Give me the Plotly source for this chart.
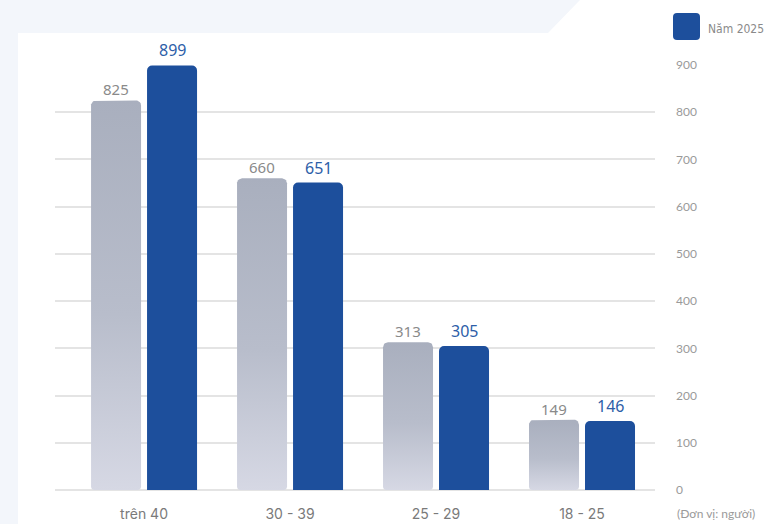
import numpy as np
import plotly.graph_objects as go

# --- data -------------------------------------------------------------
age_groups = ["trên 40", "30 - 39", "25 - 29", "18 - 25"]
prev_year = [825, 660, 313, 149]      # gray series (previous year)
year_2025 = [899, 651, 305, 146]      # blue series
y_ticks = [0, 100, 200, 300, 400, 500, 600, 700, 800, 900]
legend_label = "Năm 2025"
unit_note = "(Đơn vị: người)"

# --- layout constants -------------------------------------------------
W, H = 772, 524
M_L, M_R, M_T, M_B = 55, 117, 65, 34
X_RANGE = [-0.61, 3.5]
Y_RANGE = [0, 900]
PLOT_W = W - M_L - M_R
PLOT_H = H - M_T - M_B
PX_X = PLOT_W / (X_RANGE[1] - X_RANGE[0])   # pixels per x unit
PX_Y = PLOT_H / (Y_RANGE[1] - Y_RANGE[0])   # pixels per y unit

BAR_W_PX = 50
OFFSET_PX = 28
bar_w = BAR_W_PX / PX_X
offset = OFFSET_PX / PX_X

BLUE = "#1d4f9c"
GRAY_TOP = "#a9afbe"
GRAY_MID = "#b8bdcb"
GRAY_BOTTOM = "#d6d8e4"
BG = "#f3f6fb"
GRID = "#e4e4e4"
VALUE_FONT = "Noto Sans"

x_idx = np.arange(len(age_groups))

fig = go.Figure()


def rounded_bar_path(xc, value, r_top_px=5, r_bot_px=3, n=8):
    """Outline of a bar with rounded corners, in data units."""
    hw = bar_w / 2
    x0, x1 = xc - hw, xc + hw
    rtx, rty = r_top_px / PX_X, r_top_px / PX_Y
    rbx, rby = r_bot_px / PX_X, r_bot_px / PX_Y
    xs, ys = [], []
    # bottom-left corner
    for t in np.linspace(0, np.pi / 2, n):
        xs.append(x0 + rbx - rbx * np.cos(t))
        ys.append(rby - rby * np.sin(t))
    # bottom-right corner
    for t in np.linspace(np.pi / 2, 0, n):
        xs.append(x1 - rbx + rbx * np.cos(t))
        ys.append(rby - rby * np.sin(t))
    # top-right corner
    for t in np.linspace(0, np.pi / 2, n):
        xs.append(x1 - rtx + rtx * np.cos(t))
        ys.append(value - rty + rty * np.sin(t))
    # top-left corner
    for t in np.linspace(np.pi / 2, np.pi, n):
        xs.append(x0 + rtx + rtx * np.cos(t))
        ys.append(value - rty + rty * np.sin(t))
    xs.append(xs[0])
    ys.append(ys[0])
    return xs, ys


# gray bars with a vertical gradient
for i, v in zip(x_idx, prev_year):
    xs, ys = rounded_bar_path(i - offset, v)
    fig.add_trace(go.Scatter(
        x=xs, y=ys, mode="lines", fill="toself",
        line=dict(width=0, color="rgba(0,0,0,0)"),
        fillgradient=dict(
            type="vertical", start=0, stop=v,
            colorscale=[[0, GRAY_BOTTOM], [0.45, GRAY_MID], [1, GRAY_TOP]],
        ),
        hoverinfo="skip", showlegend=False,
    ))

# blue bars
fig.add_trace(go.Bar(
    x=x_idx + offset, y=year_2025, width=bar_w,
    marker=dict(color=BLUE, cornerradius=5, line=dict(width=0)),
    name=legend_label, showlegend=False, hoverinfo="y",
))

# value labels
for i, v in zip(x_idx, prev_year):
    fig.add_annotation(x=i - offset, y=v, text=str(v), showarrow=False,
                       yanchor="bottom", yshift=-1,
                       font=dict(family=VALUE_FONT, size=15, color="#8a8a8a"))
for i, v in zip(x_idx, year_2025):
    fig.add_annotation(x=i + offset, y=v, text=str(v), showarrow=False,
                       yanchor="bottom", yshift=2,
                       font=dict(family=VALUE_FONT, size=16, color="#2d5ea8",
                                 weight=400))


def px_to_paper(px, py):
    return (px - M_L) / PLOT_W, (H - M_B - py) / PLOT_H


# light backdrop behind the white card (top band with slanted edge + left strip)
pts = [(0, 0), (580, 0), (548, 33), (18, 33), (18, H), (0, H)]
path = "M " + " L ".join(f"{px_to_paper(a, b)[0]:.5f},{px_to_paper(a, b)[1]:.5f}" for a, b in pts) + " Z"
fig.add_shape(type="path", path=path, xref="paper", yref="paper",
              fillcolor=BG, line=dict(width=0), layer="below")

# legend swatch
lx0, ly0 = px_to_paper(673, 40)
lx1, ly1 = px_to_paper(700, 13)
rx, ry = 4 / PLOT_W, 4 / PLOT_H
sw_path = (
    f"M {lx0+rx},{ly0} L {lx1-rx},{ly0} Q {lx1},{ly0} {lx1},{ly0+ry} "
    f"L {lx1},{ly1-ry} Q {lx1},{ly1} {lx1-rx},{ly1} "
    f"L {lx0+rx},{ly1} Q {lx0},{ly1} {lx0},{ly1-ry} "
    f"L {lx0},{ly0+ry} Q {lx0},{ly0} {lx0+rx},{ly0} Z"
)
fig.add_shape(type="path", path=sw_path, xref="paper", yref="paper",
              fillcolor=BLUE, line=dict(width=0))
tx, ty = px_to_paper(706, 29)
fig.add_annotation(x=tx, y=ty, xref="paper", yref="paper", text=legend_label,
                   showarrow=False, xanchor="left", yanchor="middle",
                   font=dict(family="Liberation Sans Narrow, DejaVu Sans Condensed, sans-serif",
                             size=12, color="#8a8a8a"))

# unit note under the y axis
ux, uy = px_to_paper(675, 513)
fig.add_annotation(x=ux, y=uy, xref="paper", yref="paper", text=unit_note,
                   showarrow=False, xanchor="left", yanchor="middle",
                   font=dict(family="Lato", size=12, color="#9a9a9a"))

fig.update_layout(
    width=W, height=H,
    margin=dict(l=M_L, r=M_R, t=M_T, b=M_B, pad=0, autoexpand=False),
    paper_bgcolor="white", plot_bgcolor="rgba(0,0,0,0)",
    showlegend=False,
    xaxis=dict(
        range=X_RANGE, tickmode="array", tickvals=x_idx, ticktext=age_groups,
        showgrid=False, zeroline=False, showline=False, ticks="",
        ticklabelstandoff=14, automargin=False,
        tickfont=dict(family="Inter", size=14, color="#7a7a7a"),
        fixedrange=True,
    ),
    yaxis=dict(
        range=Y_RANGE, side="right", tickmode="array", tickvals=y_ticks,
        showgrid=True, gridcolor=GRID, gridwidth=1.5,
        zeroline=True, zerolinecolor=GRID, zerolinewidth=1.5,
        showline=False, ticks="",
        ticklabelstandoff=20, automargin=False,
        tickfont=dict(family="Lato", size=12, color="#9a9a9a"),
        fixedrange=True,
    ),
)

fig.write_html("out.html")
